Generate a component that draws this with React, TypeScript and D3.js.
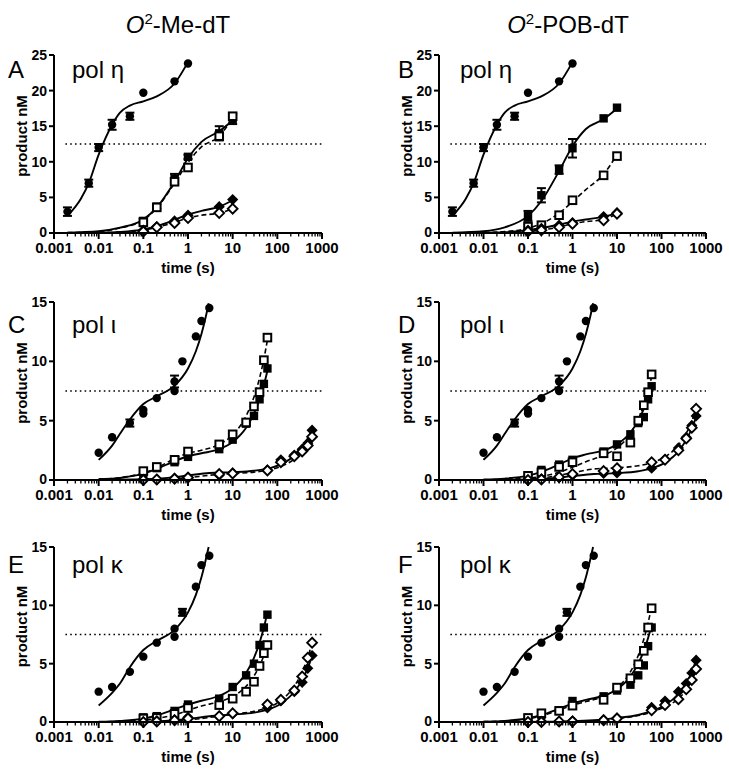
import React from 'react';
import * as d3 from 'd3';

// ---------------- data ----------------
const xTickValues = [0.001, 0.01, 0.1, 1, 10, 100, 1000];
const xTickLabels = ['0.001', '0.01', '0.1', '1', '10', '100', '1000'];
const yTicksEta = [0, 5, 10, 15, 20, 25];
const yTicksOther = [0, 5, 10, 15];
const columnTitles = ['-Me-dT', '-POB-dT'];
const panelLetters = ['A', 'B', 'C', 'D', 'E', 'F'];
const enzymeNames = ['pol η', 'pol η', 'pol ι', 'pol ι', 'pol κ', 'pol κ'];
const halfLines = [12.5, 12.5, 7.5, 7.5, 7.5, 7.5];
const yMaxes = [25, 25, 15, 15, 15, 15];

// time points
const tEtaDC = [0.002, 0.006, 0.01, 0.02, 0.05, 0.1, 0.5, 1];
const tEtaLes = [0.1, 0.2, 0.5, 1, 5, 10];
const tIotaDC = [0.01, 0.02, 0.05, 0.1, 0.1, 0.2, 0.5, 0.5, 0.75, 1.5, 2, 3];
const tKappaDC = [0.01, 0.02, 0.05, 0.1, 0.2, 0.5, 0.5, 0.75, 1.5, 2, 3];
const tSq = [0.1, 0.2, 0.5, 1, 5, 10, 20, 30, 40, 50, 60];
const tDia = [0.1, 0.2, 0.5, 1, 5, 10, 60, 120, 240, 360, 480, 600];

// control (dC) data
const etaDC = [3.0, 7.0, 12.0, 15.2, 16.4, 19.7, 21.3, 23.8];
const etaDCErr = [0.6, 0.5, 0.5, 0.7, 0.5, 0, 0, 0];
const iotaDC = [2.3, 3.6, 4.8, 5.9, 5.6, 6.9, 7.5, 8.3, 10.0, 12.1, 13.4, 14.5];
const iotaDCErr = [0, 0, 0.3, 0, 0, 0, 0, 0.5, 0, 0, 0, 0];
const kappaDC = [2.6, 3.0, 4.3, 5.6, 6.8, 8.0, 7.3, 9.4, 11.6, 13.45, 14.25];
const kappaDCErr = [0, 0, 0, 0, 0, 0, 0, 0.3, 0, 0, 0];

// panel A
const aSqF = [1.7, 3.7, 7.6, 10.7, 14.0, 16.0];
const aSqFErr = [0.4, 0.3, 0.7, 0.3, 1.0, 0.7];
const aSqO = [1.5, 3.6, 7.2, 9.2, 13.6, 16.4];
const aDiaF = [0.4, 0.9, 1.7, 2.5, 3.7, 4.7];
const aDiaO = [0.2, 0.8, 1.4, 2.1, 2.8, 3.4];
// panel B
const bSqF = [2.4, 5.3, 8.9, 11.9, 16.1, 17.6];
const bSqFErr = [0.7, 1.0, 0.6, 1.3, 0, 0];
const bSqO = [0.9, 1.1, 2.5, 4.6, 8.1, 10.8];
const bDiaF = [0.4, 0.65, 1.1, 1.45, 2.3, 2.85];
const bDiaO = [0.2, 0.4, 0.8, 1.3, 1.8, 2.7];
// panel C
const cSqF = [0.45, 1.0, 1.5, 1.95, 2.6, 3.4, 4.75, 5.4, 6.8, 8.1, 9.4];
const cSqO = [0.75, 1.1, 1.7, 2.4, 3.0, 3.85, 4.85, 6.2, 7.4, 10.1, 12.0];
const cDiaF = [0.05, 0.05, 0.15, 0.25, 0.4, 0.6, 0.85, 1.7, 2.1, 2.6, 3.1, 4.2];
const cDiaO = [0.0, 0.05, 0.1, 0.2, 0.5, 0.55, 0.8, 1.5, 2.0, 2.4, 2.9, 3.65];
// panel D
const dSqF = [0.4, 0.85, 1.3, 1.7, 2.4, 3.0, 3.85, 4.8, 5.3, 6.8, 7.9];
const dSqO = [0.35, 0.65, 1.1, 1.5, 2.25, 2.0, 3.15, 5.0, 6.3, 7.4, 8.9];
const dDiaF = [0.0, 0.1, 0.2, 0.4, 0.55, 0.6, 1.0, 1.75, 2.7, 3.6, 4.6, 5.4];
const dDiaO = [0.0, 0.05, 0.25, 0.5, 0.75, 1.0, 1.5, 1.7, 2.5, 3.5, 4.4, 6.0];
// panel E
const eSqF = [0.4, 0.5, 0.95, 1.5, 2.0, 3.0, 4.0, 5.0, 6.6, 8.1, 9.2];
const eSqO = [0.3, 0.35, 0.7, 1.2, 1.45, 2.0, 2.6, 3.45, 4.8, 5.9, 6.6];
const eDiaF = [0.0, 0.1, 0.2, 0.4, 0.5, 0.7, 1.2, 1.8, 2.6, 3.4, 4.6, 5.7];
const eDiaO = [0.0, 0.05, 0.15, 0.3, 0.5, 0.75, 1.5, 1.9, 2.7, 3.9, 5.5, 6.8];
// panel F
const fSqF = [0.2, 0.6, 1.0, 1.8, 2.2, 2.7, 3.2, 4.0, 4.85, 6.5, 8.1];
const fSqO = [0.35, 0.75, 0.95, 1.4, 1.9, 2.95, 3.75, 4.95, 6.1, 8.1, 9.75];
const fDiaF = [0.0, 0.05, 0.05, 0.1, 0.2, 0.35, 1.25, 1.8, 2.6, 3.3, 4.2, 5.3];
const fDiaO = [0.0, 0.0, 0.05, 0.05, 0.15, 0.3, 1.0, 1.45, 1.95, 2.8, 3.6, 4.55];

// fitted curves (knots)
const gEtaDC = [0.002, 0.004, 0.006, 0.01, 0.02, 0.03, 0.05, 0.1, 0.2, 0.5, 1];
const gEtaLes = [0.002, 0.01, 0.03, 0.1, 0.2, 0.5, 1, 2, 5, 10];
const gDC = [0.01, 0.02, 0.03, 0.05, 0.1, 0.2, 0.5, 1, 1.5, 2, 2.5, 2.9];
const gSq = [0.01, 0.03, 0.1, 0.2, 0.5, 1, 2, 5, 10, 20, 30, 40, 50, 60];
const gDia = [0.01, 0.1, 0.3, 1, 3, 10, 30, 60, 120, 240, 360, 480, 600];

const fitEtaDC = [2.4, 4.8, 7.0, 11.0, 15.2, 16.9, 17.9, 18.5, 19.2, 21.0, 24.0];
const fitASqF = [0.05, 0.25, 0.75, 1.9, 3.6, 7.2, 10.5, 12.8, 14.3, 15.8];
const fitASqO = [0.05, 0.2, 0.7, 1.8, 3.5, 7.0, 9.9, 12.1, 13.6, 16.2];
const fitADiaF = [0.01, 0.05, 0.15, 0.5, 0.95, 1.85, 2.6, 3.1, 3.7, 4.6];
const fitADiaO = [0.01, 0.04, 0.12, 0.4, 0.8, 1.5, 2.1, 2.5, 2.8, 3.4];
const fitBSqF = [0.05, 0.25, 0.8, 2.4, 4.5, 8.7, 12.2, 14.6, 16.0, 17.5];
const fitBSqO = [0.01, 0.07, 0.2, 0.67, 1.3, 2.8, 4.4, 6.1, 8.25, 11.0];
const fitBDiaF = [0.01, 0.04, 0.12, 0.4, 0.7, 1.2, 1.6, 1.9, 2.3, 2.8];
const fitBDiaO = [0.0, 0.02, 0.06, 0.2, 0.4, 0.85, 1.3, 1.6, 1.9, 2.7];
const fitIotaDC = [1.7, 2.9, 3.9, 5.1, 6.4, 7.05, 7.95, 9.4, 10.85, 12.3, 13.75, 14.9];
const fitKappaDC = [1.42, 2.5, 3.3, 4.7, 6.17, 6.96, 7.9, 9.4, 10.9, 12.4, 13.9, 15.0];
const fitCSqF = [0.06, 0.17, 0.53, 0.93, 1.6, 2.0, 2.25, 2.6, 3.2, 4.4, 5.6, 6.8, 8.0, 9.2];
const fitCSqO = [0.07, 0.19, 0.59, 1.03, 1.79, 2.25, 2.51, 3.0, 3.8, 5.4, 7.0, 8.6, 10.2, 11.8];
const fitCDiaF = [0.006, 0.06, 0.16, 0.38, 0.59, 0.66, 0.78, 0.96, 1.32, 2.04, 2.76, 3.48, 4.2];
const fitCDiaO = [0.003, 0.025, 0.07, 0.2, 0.4, 0.55, 0.66, 0.82, 1.14, 1.77, 2.4, 3.05, 3.7];
const fitDSqF = [0.04, 0.12, 0.37, 0.68, 1.31, 1.83, 2.16, 2.5, 3.0, 4.0, 5.0, 6.0, 7.0, 8.0];
const fitDSqO = [0.016, 0.048, 0.155, 0.3, 0.65, 1.07, 1.54, 2.09, 2.7, 3.9, 5.1, 6.3, 7.5, 8.7];
const fitDDiaF = [0.005, 0.05, 0.13, 0.33, 0.5, 0.58, 0.74, 0.98, 1.46, 2.42, 3.38, 4.34, 5.3];
const fitDDiaO = [0.01, 0.09, 0.25, 0.61, 0.93, 1.03, 1.2, 1.45, 1.95, 2.94, 3.94, 4.95, 5.95];
const fitESqF = [0.03, 0.1, 0.29, 0.56, 1.08, 1.5, 1.82, 2.25, 2.9, 4.2, 5.5, 6.8, 8.1, 9.4];
const fitESqO = [0.016, 0.047, 0.156, 0.3, 0.62, 1.0, 1.37, 1.74, 2.18, 3.06, 3.94, 4.82, 5.7, 6.58];
const fitEDiaF = [0.003, 0.032, 0.09, 0.26, 0.49, 0.64, 0.8, 1.06, 1.57, 2.59, 3.61, 4.63, 5.65];
const fitEDiaO = [0.002, 0.018, 0.05, 0.17, 0.39, 0.67, 0.91, 1.22, 1.84, 3.07, 4.31, 5.54, 6.78];
const fitFSqF = [0.034, 0.1, 0.32, 0.58, 1.13, 1.58, 1.89, 2.25, 2.8, 3.9, 5.0, 6.1, 7.2, 8.3];
const fitFSqO = [0.03, 0.09, 0.28, 0.52, 1.02, 1.44, 1.75, 2.2, 2.9, 4.3, 5.7, 7.1, 8.5, 9.9];
const fitFDiaF = [0.0, 0.01, 0.03, 0.06, 0.15, 0.35, 0.6, 0.95, 1.45, 2.4, 3.3, 4.3, 5.3];
const fitFDiaO = [0.0, 0.005, 0.02, 0.04, 0.12, 0.3, 0.55, 0.85, 1.3, 2.0, 2.75, 3.6, 4.5];

// ---------------- types / helpers ----------------
type MarkerKind = 'circle' | 'sqF' | 'sqO' | 'diaF' | 'diaO';
type Series = {
  t: number[]; y: number[]; err?: number[]; marker: MarkerKind;
  ft: number[]; fy: number[]; dashed: boolean;
};

const mk = (t: number[], y: number[], marker: MarkerKind, ft: number[], fy: number[], dashed: boolean, err?: number[]): Series =>
  ({ t, y, marker, ft, fy, dashed, err });

const panelSeries: Series[][] = [
  [
    mk(tEtaDC, etaDC, 'circle', gEtaDC, fitEtaDC, false, etaDCErr),
    mk(tEtaLes, aSqF, 'sqF', gEtaLes, fitASqF, false, aSqFErr),
    mk(tEtaLes, aSqO, 'sqO', gEtaLes, fitASqO, true),
    mk(tEtaLes, aDiaF, 'diaF', gEtaLes, fitADiaF, false),
    mk(tEtaLes, aDiaO, 'diaO', gEtaLes, fitADiaO, true),
  ],
  [
    mk(tEtaDC, etaDC, 'circle', gEtaDC, fitEtaDC, false, etaDCErr),
    mk(tEtaLes, bSqF, 'sqF', gEtaLes, fitBSqF, false, bSqFErr),
    mk(tEtaLes, bSqO, 'sqO', gEtaLes, fitBSqO, true),
    mk(tEtaLes, bDiaF, 'diaF', gEtaLes, fitBDiaF, false),
    mk(tEtaLes, bDiaO, 'diaO', gEtaLes, fitBDiaO, true),
  ],
  [
    mk(tIotaDC, iotaDC, 'circle', gDC, fitIotaDC, false, iotaDCErr),
    mk(tSq, cSqF, 'sqF', gSq, fitCSqF, false),
    mk(tSq, cSqO, 'sqO', gSq, fitCSqO, true),
    mk(tDia, cDiaF, 'diaF', gDia, fitCDiaF, false),
    mk(tDia, cDiaO, 'diaO', gDia, fitCDiaO, true),
  ],
  [
    mk(tIotaDC, iotaDC, 'circle', gDC, fitIotaDC, false, iotaDCErr),
    mk(tSq, dSqF, 'sqF', gSq, fitDSqF, false),
    mk(tSq, dSqO, 'sqO', gSq, fitDSqO, true),
    mk(tDia, dDiaF, 'diaF', gDia, fitDDiaF, false),
    mk(tDia, dDiaO, 'diaO', gDia, fitDDiaO, true),
  ],
  [
    mk(tKappaDC, kappaDC, 'circle', gDC, fitKappaDC, false, kappaDCErr),
    mk(tSq, eSqF, 'sqF', gSq, fitESqF, false),
    mk(tSq, eSqO, 'sqO', gSq, fitESqO, true),
    mk(tDia, eDiaF, 'diaF', gDia, fitEDiaF, false),
    mk(tDia, eDiaO, 'diaO', gDia, fitEDiaO, true),
  ],
  [
    mk(tKappaDC, kappaDC, 'circle', gDC, fitKappaDC, false, kappaDCErr),
    mk(tSq, fSqF, 'sqF', gSq, fitFSqF, false),
    mk(tSq, fSqO, 'sqO', gSq, fitFSqO, true),
    mk(tDia, fDiaF, 'diaF', gDia, fitFDiaF, false),
    mk(tDia, fDiaO, 'diaO', gDia, fitFDiaO, true),
  ],
];

const FONT = '"Liberation Sans", Arial, Helvetica, sans-serif';

// layout
const COLS = [{ x0: 54, x1: 322, letterX: 8, polX: 72, titleX: 178 }, { x0: 439, x1: 706, letterX: 398, polX: 460, titleX: 568 }];
const ROWS = [{ yt: 55, yb: 233, base: 78 }, { yt: 302, yb: 480, base: 333 }, { yt: 547, yb: 722, base: 573 }];

function Marker({ kind, x, y }: { kind: MarkerKind; x: number; y: number }) {
  switch (kind) {
    case 'circle':
      return <circle cx={x} cy={y} r={4.2} fill="#000" />;
    case 'sqF':
      return <rect x={x - 4.2} y={y - 4.2} width={8.4} height={8.4} fill="#000" />;
    case 'sqO':
      return <rect x={x - 3.8} y={y - 3.8} width={7.6} height={7.6} fill="#fff" stroke="#000" strokeWidth={2} />;
    case 'diaF': {
      const h = 5.6;
      return <path d={`M${x},${y - h}L${x + h},${y}L${x},${y + h}L${x - h},${y}Z`} fill="#000" />;
    }
    case 'diaO': {
      const h = 4.9;
      return <path d={`M${x},${y - h}L${x + h},${y}L${x},${y + h}L${x - h},${y}Z`} fill="#fff" stroke="#000" strokeWidth={1.9} />;
    }
  }
  return null;
}

function Panel({ idx }: { idx: number }) {
  const col = COLS[idx % 2];
  const row = ROWS[Math.floor(idx / 2)];
  const yMax = yMaxes[idx];
  const xs = d3.scaleLog().domain([0.001, 1000]).range([col.x0, col.x1]);
  const ys = d3.scaleLinear().domain([0, yMax]).range([row.yb, row.yt]);
  const yTicks = yMax === 25 ? yTicksEta : yTicksOther;
  const minorTicks = xs.ticks().filter((v) => !xTickValues.some((m) => Math.abs(m - v) / m < 1e-6));
  const line = d3
    .line<[number, number]>()
    .x((d) => xs(d[0]))
    .y((d) => ys(d[1]))
    .curve(d3.curveMonotoneX);
  const series = panelSeries[idx];
  const yMid = (row.yt + row.yb) / 2 - 8;

  return (
    <g>
      {/* dotted half line */}
      <line x1={xs(0.0018)} x2={xs(1000)} y1={ys(halfLines[idx])} y2={ys(halfLines[idx])}
        stroke="#000" strokeWidth={1.6} strokeDasharray="1.6,3.2" />
      {/* fit curves */}
      {series.map((s, i) => (
        <path key={'f' + i} d={line(s.ft.map((t, j) => [t, s.fy[j]] as [number, number])) || ''}
          fill="none" stroke="#000" strokeWidth={s.dashed ? 1.6 : 1.9}
          strokeDasharray={s.dashed ? '5,3' : undefined} />
      ))}
      {/* error bars */}
      {series.map((s, i) =>
        s.err ? s.err.map((e, j) => e > 0 ? (
          <g key={'e' + i + '-' + j} stroke="#000" strokeWidth={2}>
            <line x1={xs(s.t[j])} x2={xs(s.t[j])} y1={ys(s.y[j] - e)} y2={ys(s.y[j] + e)} />
            <line x1={xs(s.t[j]) - 4.5} x2={xs(s.t[j]) + 4.5} y1={ys(s.y[j] - e)} y2={ys(s.y[j] - e)} />
            <line x1={xs(s.t[j]) - 4.5} x2={xs(s.t[j]) + 4.5} y1={ys(s.y[j] + e)} y2={ys(s.y[j] + e)} />
          </g>
        ) : null) : null
      )}
      {/* markers */}
      {series.map((s, i) => s.t.map((t, j) => (
        <Marker key={'m' + i + '-' + j} kind={s.marker} x={xs(t)} y={ys(s.y[j])} />
      )))}
      {/* axes */}
      <line x1={col.x0} x2={col.x0} y1={row.yb + 1} y2={row.yt} stroke="#000" strokeWidth={2} />
      <line x1={col.x0} x2={col.x1} y1={row.yb} y2={row.yb} stroke="#000" strokeWidth={2} />
      {yTicks.map((v) => (
        <g key={'yt' + v}>
          <line x1={col.x0 - 5} x2={col.x0} y1={ys(v)} y2={ys(v)} stroke="#000" strokeWidth={2} />
          <text x={col.x0 - 7} y={ys(v) - (v === 0 ? 1 : 0)} dy="0.36em" textAnchor="end" fontFamily={FONT}
            fontWeight="bold" fontSize={14}>{v}</text>
        </g>
      ))}
      {minorTicks.map((v, i) => (
        <line key={'mn' + i} x1={xs(v)} x2={xs(v)} y1={row.yb} y2={row.yb + 3.5} stroke="#000" strokeWidth={1.3} />
      ))}
      {xTickValues.map((v, i) => (
        <g key={'xt' + i}>
          <line x1={xs(v)} x2={xs(v)} y1={row.yb} y2={row.yb + 6} stroke="#000" strokeWidth={2} />
          <text x={xs(v)} y={row.yb + 20} textAnchor="middle" fontFamily={FONT} fontWeight="bold"
            fontSize={15}>{xTickLabels[i]}</text>
        </g>
      ))}
      <text x={(col.x0 + col.x1) / 2} y={row.yb + 40} textAnchor="middle" fontFamily={FONT}
        fontWeight="bold" fontSize={15}>time (s)</text>
      <text transform={`translate(${col.x0 - 27},${yMid}) rotate(-90)`} textAnchor="middle"
        fontFamily={FONT} fontWeight="bold" fontSize={15}>product nM</text>
      {/* panel labels */}
      <text x={col.letterX} y={row.base} fontFamily={FONT} fontSize={24}>{panelLetters[idx]}</text>
      <text x={col.polX} y={row.base} fontFamily={FONT} fontSize={24}>{enzymeNames[idx]}</text>
    </g>
  );
}

export default function App() {
  return (
    <svg width={729} height={773} style={{ position: 'absolute', left: 0, top: 0, background: '#fff' }}>
      <rect x={0} y={0} width={729} height={773} fill="#fff" />
      {COLS.map((c, i) => (
        <text key={'t' + i} x={c.titleX} y={33} textAnchor="middle" fontFamily={FONT} fontSize={24}>
          <tspan fontStyle="italic">O</tspan>
          <tspan dy={-9} fontSize={15}>2</tspan>
          <tspan dy={9}>{columnTitles[i]}</tspan>
        </text>
      ))}
      {[0, 1, 2, 3, 4, 5].map((i) => <Panel key={i} idx={i} />)}
    </svg>
  );
}
